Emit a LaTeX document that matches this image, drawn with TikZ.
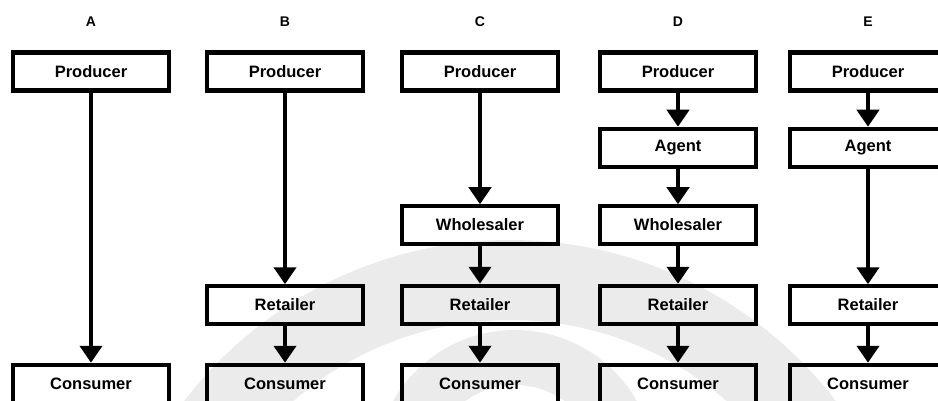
\documentclass[tikz,border=0pt]{standalone}
\usepackage{fontspec}
\setmainfont{Liberation Sans}
\usetikzlibrary{arrows.meta}
\begin{document}
\begin{tikzpicture}[x=1pt,y=-1pt,
  box/.style={draw=black, line width=4.5pt, minimum width=156pt, minimum height=38pt,
    inner sep=0pt, font=\bfseries\fontsize{16.5}{16.5}\selectfont},
  thinbox/.style={box, line width=3.5pt},
  flow/.style={line width=4.5pt, -{Triangle[width=22pt,length=17pt]}},
  head/.style={font=\bfseries\fontsize{14}{14}\selectfont}]
\useasboundingbox (0,0) rectangle (938,401);
\clip (0,0) rectangle (938,401);
% faint background emblem
\fill[gray!16, even odd rule] (510,650) circle[radius=410pt] (510,650) circle[radius=330pt];
\fill[gray!16, even odd rule] (515,470) circle[radius=140pt] (515,470) circle[radius=85pt];

% column headings
\node[head] (hA) at (91,22) {A};
\node[head] (hB) at (285,22) {B};
\node[head] (hC) at (480,22) {C};
\node[head] (hD) at (678,22) {D};
\node[head] (hE) at (868,22) {E};

% A: direct
\node[box] (aP) at (91,71.5) {Producer};
\node[box] (aC) at (91,384) {Consumer};
\draw[flow] (aP) -- (aC);

% B: through a retailer
\node[box] (bP) at (285,71.5) {Producer};
\node[thinbox] (bR) at (285,305) {Retailer};
\node[box] (bC) at (285,384) {Consumer};
\draw[flow] (bP) -- (bR);
\draw[flow] (bR) -- (bC);

% C: wholesaler and retailer
\node[box] (cP) at (480,71.5) {Producer};
\node[thinbox] (cW) at (480,225) {Wholesaler};
\node[box] (cR) at (480,305) {Retailer};
\node[box] (cC) at (480,384) {Consumer};
\draw[flow] (cP) -- (cW);
\draw[flow] (cW) -- (cR);
\draw[flow] (cR) -- (cC);

% D: agent, wholesaler and retailer
\node[box] (dP) at (678,71.5) {Producer};
\node[box] (dA) at (678,148) {Agent};
\node[thinbox] (dW) at (678,225) {Wholesaler};
\node[box] (dR) at (678,305) {Retailer};
\node[box] (dC) at (678,384) {Consumer};
\draw[flow] (dP) -- (dA);
\draw[flow] (dA) -- (dW);
\draw[flow] (dW) -- (dR);
\draw[flow] (dR) -- (dC);

% E: agent and retailer
\node[box] (eP) at (868,71.5) {Producer};
\node[box] (eA) at (868,148) {Agent};
\node[thinbox] (eR) at (868,305) {Retailer};
\node[box] (eC) at (868,384) {Consumer};
\draw[flow] (eP) -- (eA);
\draw[flow] (eA) -- (eR);
\draw[flow] (eR) -- (eC);
\end{tikzpicture}
\end{document}
